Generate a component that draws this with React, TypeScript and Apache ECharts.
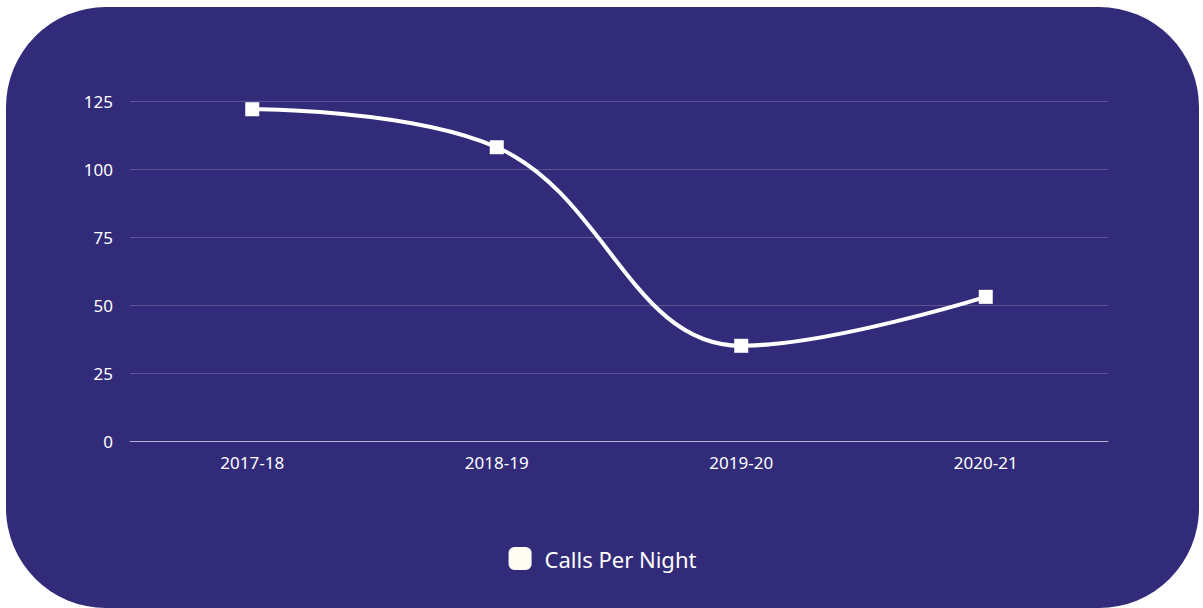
import React, { useEffect, useRef } from "react";
import * as echarts from "echarts";

const categories = ["2017-18", "2018-19", "2019-20", "2020-21"];
const callsPerNight = [122, 108, 35, 53];
const seriesName = "Calls Per Night";

export default function App() {
  const ref = useRef<HTMLDivElement>(null);
  useEffect(() => {
    if (!ref.current) return;
    const chart = echarts.init(ref.current, null, { renderer: "svg" });
    const font = "'Noto Sans', 'Open Sans', sans-serif";
    chart.setOption({
      animation: false,
      backgroundColor: "transparent",
      textStyle: { fontFamily: font },
      grid: { left: 124, right: 91, top: 94, bottom: 167 },
      legend: {
        bottom: 33,
        left: "center",
        icon: "roundRect",
        itemWidth: 23,
        itemHeight: 23,
        itemGap: 12,
        textStyle: { color: "#ffffff", fontSize: 22, fontFamily: font, padding: [0, 0, 0, 8] },
        data: [{ name: seriesName, itemStyle: { color: "#fdfdf4", borderWidth: 0 } }],
      },
      xAxis: {
        type: "category",
        data: categories,
        boundaryGap: true,
        axisLine: { show: true, lineStyle: { color: "rgba(255,255,255,0.55)", width: 1 } },
        axisTick: { show: false },
        axisLabel: { color: "#ffffff", fontSize: 17, margin: 13 },
        splitLine: { show: false },
      },
      yAxis: {
        type: "value",
        min: 0,
        max: 125,
        interval: 25,
        axisLine: { show: false },
        axisTick: { show: false },
        axisLabel: { color: "#ffffff", fontSize: 17, margin: 17 },
        splitLine: { show: true, lineStyle: { color: "rgba(255,255,255,0.2)", width: 1 } },
      },
      series: [
        {
          name: seriesName,
          type: "line",
          data: callsPerNight,
          smooth: 0.4,
          symbol: "rect",
          symbolSize: 14,
          itemStyle: { color: "#ffffff" },
          lineStyle: { color: "#ffffff", width: 4 },
        },
      ],
    });
    return () => chart.dispose();
  }, []);
  return (
    <div
      style={{
        position: "fixed",
        left: 6,
        top: 7,
        width: 1193,
        height: 601,
        borderRadius: 100,
        backgroundColor: "#322b7a",
        overflow: "hidden",
      }}
    >
      <div ref={ref} style={{ width: "100%", height: "100%" }} />
    </div>
  );
}
